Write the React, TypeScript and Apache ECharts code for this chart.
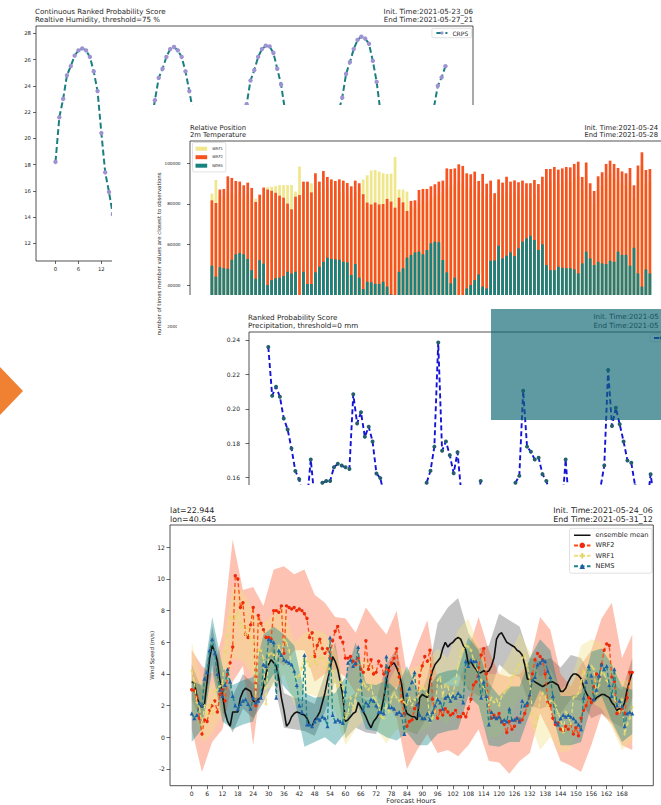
import React, { useEffect, useRef } from "react";
import * as echarts from "echarts";

const FONT = "DejaVu Sans";
const TXT = "#262626";

// ---------------- Panel 1 : CRPS ----------------
const crpsTickX = [0, 6, 12];
const crpsTickY = [12, 14, 16, 18, 20, 22, 24, 26, 28];
const crpsValues = [
  18.2, 21.6, 23.0, 24.8, 25.5, 26.3, 26.7, 26.85, 26.7, 26.2, 25.1, 23.6, 20.4, 17.4, 15.9,
  14.2, 13.1, 12.4, 12.0, 11.9, 12.2, 13.0, 14.5, 16.8, 19.0, 21.2,
  22.9, 24.6, 25.3, 26.2, 26.8, 26.96, 26.7, 26.2, 25.1, 23.6,
  22.0, 20.3, 18.5, 16.8, 15.5, 14.5, 13.6, 13.0, 12.8, 13.1, 14.2, 16.0, 18.4, 20.8,
  22.6, 24.4, 25.2, 26.2, 26.8, 27.06, 27.0, 26.5, 25.3, 24.1,
  22.2, 20.3, 18.6, 17.0, 15.6, 14.5, 13.7, 13.2, 13.0, 13.4, 14.6, 16.5, 18.8, 20.6, 22.0,
  23.1, 24.9, 25.8, 26.8, 27.5, 27.75, 27.6, 27.2, 25.9, 24.3,
  22.0, 20.0, 18.2, 16.6, 15.3, 14.3, 13.6, 13.2, 13.1, 13.6, 15.0, 17.2, 19.6, 21.6,
  22.4, 24.0, 24.65, 25.5,
];

// ---------------- Panel 2 : Relative Position ----------------
const relTickY = [20000, 40000, 60000, 80000, 100000];
const relWRF1 = [
  85100, 91800, 84000, 83500, 86000, 85500, 84500, 86000, 83000, 85000,
  82000, 82600, 80000, 84000, 88300, 88500, 88800, 89300, 89300, 89300,
  89300, 86100, 98400, 87000, 90300, 90200, 88000, 86000, 87000, 88000,
  86500, 87000, 85500, 86000, 84500, 83000, 86000, 88000, 92100, 94100,
  96400, 96700, 95900, 95100, 94800, 94900, 103100, 87100, 87100, 86100,
  79000, 78000, 80000, 82000, 81000, 83000, 84000, 85000, 86000, 88000,
  89000, 90000, 91000, 90000, 88000, 87000, 88000, 85000, 86000, 84000,
  85000, 80000, 86000, 84000, 86000, 85000, 86000, 84000, 85000, 84000,
  83000, 85000, 83000, 87000, 90000, 91000, 92000, 90000, 91000, 92000,
  91000, 93000, 94000, 87000, 94000, 84000, 80000, 87000, 89000, 93000,
  95000, 93000, 91000, 90000, 89000, 91000, 83000, 92000, 99000, 90000, 91000,
];
const relWRF2 = [
  81800, 80500, 87100, 87400, 93600, 92800, 91300, 91000, 89200, 90500,
  87900, 81000, 84600, 88100, 87100, 86500, 85500, 84100, 83100, 80200,
  77400, 83600, 84400, 91000, 91000, 85700, 95100, 91000, 96200, 93300,
  92100, 91300, 92100, 91500, 90300, 88700, 91500, 90200, 84800, 80700,
  79800, 80700, 79800, 80000, 82500, 81200, 78200, 83100, 80800, 76600,
  81500, 81800, 86900, 87400, 87400, 88700, 89700, 91000, 91500, 97500,
  97200, 97500, 99500, 98700, 95100, 94600, 95900, 91300, 94800, 90000,
  91500, 85300, 92100, 90500, 93400, 91000, 91600, 90700, 91500, 90200,
  90200, 91800, 89800, 93400, 97200, 97200, 98200, 96900, 97500, 98200,
  98000, 99700, 100800, 93300, 100400, 90200, 86400, 93600, 95600, 99700,
  101300, 99700, 97700, 96000, 95100, 97700, 89200, 98900, 105400, 96700, 97200,
];
const relNEMS = [
  49700, 44300, 49000, 48500, 48200, 52600, 55300, 55900, 55300, 53000,
  47500, 43300, 52400, 50700, 40200, 42600, 43500, 43800, 44600, 46700,
  45900, 46700, 30000, 46700, 40700, 40700, 46400, 49200, 51600, 53600,
  53000, 52800, 52600, 51600, 51300, 45100, 50500, 43800, 38200, 41800,
  41500, 40800, 40700, 41800, 39400, 35600, 30000, 46700, 48400, 53600,
  54900, 56200, 56600, 55300, 57400, 60700, 61500, 61200, 52500, 46400,
  41000, 43800, 30000, 35300, 38500, 40200, 42600, 45400, 39400, 38500,
  52100, 52300, 59500, 53300, 54600, 56200, 54400, 58200, 61500, 63100,
  64400, 62300, 57400, 60200, 50000, 47500, 47500, 49200, 48700, 48400,
  48500, 47900, 45900, 50800, 56600, 53300, 50000, 51600, 50800, 50500,
  52100, 51600, 56600, 55000, 55000, 49700, 58500, 45900, 39400, 47900, 45900,
];

// ---------------- Panel 3 : RPS ----------------
const rpsTickY = [0.16, 0.18, 0.2, 0.22, 0.24];
const rpsValues = [
  0.2359, 0.2076, 0.2128, 0.207, 0.1944, 0.188, 0.177, 0.1638, 0.159, 0.148,
  0.146, 0.1705, 0.147, 0.15, 0.157, 0.158, 0.158, 0.166, 0.168, 0.167,
  0.166, 0.165, 0.2084, 0.1915, 0.198, 0.1837, 0.1896, 0.181, 0.1624, 0.1597,
  0.15, 0.146, 0.143, 0.14, 0.142, 0.141, 0.139, 0.143, 0.145, 0.148,
  0.152, 0.157, 0.164, 0.178, 0.2386, 0.1756, 0.181, 0.173, 0.1625, 0.1748,
  0.15, 0.146, 0.143, 0.141, 0.14, 0.158, 0.14, 0.139, 0.141, 0.143,
  0.145, 0.147, 0.15, 0.153, 0.157, 0.161, 0.2105, 0.178, 0.175, 0.1705,
  0.1715, 0.162, 0.158, 0.15, 0.146, 0.143, 0.141, 0.1705, 0.14, 0.139,
  0.141, 0.143, 0.145, 0.147, 0.149, 0.152, 0.154, 0.167, 0.2225, 0.19,
  0.2006, 0.191, 0.181, 0.17, 0.1686, 0.155, 0.148, 0.144, 0.142, 0.162,
  0.145, 0.141,
];

// ---------------- Panel 4 : Wind speed ----------------
const windTickX = [0, 6, 12, 18, 24, 30, 36, 42, 48, 54, 60, 66, 72, 78, 84, 90, 96, 102, 108, 114, 120, 126, 132, 138, 144, 150, 156, 162, 168];
const windTickY = [-2, 0, 2, 4, 6, 8, 10, 12];
const meanValues = [
  3.5, 3.45, 2.6, 2.0, 1.9, 2.1, 3.5, 5.0, 5.8, 5.4,
  4.8, 3.6, 2.7, 1.6, 1.0, 0.7, 1.6, 1.6, 1.6, 2.5,
  2.9, 3.1, 3.0, 2.9, 2.3, 2.2, 2.4, 2.5, 3.2, 4.0,
  4.6, 4.9, 4.7, 4.5, 3.7, 2.5, 1.7, 0.7, 0.9, 1.3,
  1.5, 1.6, 1.55, 1.45, 1.4, 1.2, 0.8, 0.7, 1.1, 1.3,
  1.6, 2.2, 2.8, 3.6, 4.3, 5.1, 4.8, 4.3, 3.5, 2.6,
  1.0, 1.1, 1.3, 1.5, 1.6, 2.2, 1.9, 1.6, 1.3, 0.9,
  0.6, 1.0, 1.2, 1.5, 1.7, 2.5, 3.5, 4.4, 4.6, 4.7,
  4.4, 4.0, 3.3, 2.0, 1.5, 1.4, 1.3, 1.3, 1.1, 2.5,
  2.7, 2.6, 2.5, 3.6, 4.2, 4.6, 4.8, 5.0, 5.6, 6.0,
  5.7, 5.9, 6.0, 6.2, 6.3, 6.2, 5.8, 5.5, 4.6, 4.8,
  4.5, 4.3, 4.0, 4.1, 4.2, 4.1, 4.2, 4.5, 5.0, 6.2,
  6.5, 6.6, 6.3, 6.0, 5.9, 5.8, 5.7, 5.5, 5.4, 5.2,
  4.6, 3.7, 3.6, 3.6, 3.5, 3.4, 3.3, 3.2, 3.3, 3.4,
  3.5, 3.5, 3.4, 3.3, 2.9, 2.9, 3.1, 3.5, 3.8, 4.0,
  4.0, 3.9, 3.7, 3.2, 2.8, 2.5, 2.4, 2.3, 2.5, 2.6,
  2.7, 2.7, 2.6, 2.5, 2.2, 2.0, 1.7, 1.8, 1.8, 2.2,
  3.0, 3.6, 4.1,
];
const wrf2Values = [
  3.0, 2.95, 2.5, 1.2, 0.2, 1.1, 1.0, 1.7, 2.0, 2.3,
  1.6, 2.7, 3.0, 2.3, 4.0, 4.7, 5.7, 10.2, 10.0, 8.2,
  8.5, 6.5, 6.3, 7.1, 8.2, 2.0, 7.7, 7.2, 6.8, 6.3,
  6.3, 6.2, 8.0, 8.0, 7.9, 8.3, 5.3, 8.3, 8.2, 8.1,
  8.2, 8.0, 8.1, 8.0, 7.8, 7.5, 6.3, 6.6, 5.1, 5.8,
  6.2, 5.6, 5.3, 5.6, 5.0, 6.1, 6.7, 7.0, 6.3, 6.0,
  5.0, 5.0, 5.1, 4.8, 4.6, 5.0, 4.3, 4.1, 6.1, 4.3,
  4.9, 4.0, 4.1, 4.8, 4.5, 4.0, 4.4, 4.2, 4.7, 5.0,
  5.6, 3.8, 2.3, 1.5, 0.7, 1.0, 1.1, 1.8, 2.0, 3.9,
  4.5, 5.1, 4.8, 5.5, 2.4, 1.6, 1.2, 1.7, 1.4, 1.8,
  1.6, 1.4, 1.5, 1.7, 1.3, 1.3, 1.5, 1.3, 1.8, 2.4,
  3.3, 3.5, 4.4, 5.2, 5.6, 4.0, 2.0, 1.2, 1.4, 1.2,
  1.5, 1.0, 0.8, 0.3, 1.0, 0.5, 0.7, 1.2, 1.0, 1.1,
  1.5, 2.0, 2.6, 4.0, 4.9, 5.3, 5.1, 4.9, 4.0, 2.2,
  2.0, 1.2, 0.8, 0.9, 0.5, 0.4, 0.7, 0.5, 0.8, 0.2,
  0.6, 0.1, 1.2, 1.7, 2.0, 2.5, 2.2, 3.2, 4.0, 3.8,
  4.6, 5.5, 5.9, 5.8, 3.8, 3.5, 1.5, 1.6, 1.8, 1.5,
  2.5, 4.1, 4.1,
];
const wrf1Values = [
  4.2, 3.5, 2.2, 1.9, 0.8, 2.0, 1.4, 2.0, 1.5, 2.9,
  3.0, 3.2, 3.4, 5.4, 6.4, 7.6, 7.5, 7.6, 7.8, 7.2,
  7.0, 6.5, 6.9, 6.3, 6.0, 2.6, 5.5, 5.5, 5.0, 2.1,
  5.2, 5.3, 5.2, 5.0, 5.8, 5.1, 6.2, 6.0, 5.5, 4.5,
  4.2, 3.7, 3.9, 4.4, 5.0, 4.8, 4.5, 5.1, 4.8, 4.6,
  5.0, 5.0, 4.4, 4.7, 4.3, 4.2, 3.5, 3.2, 3.5, 3.2,
  1.2, 1.5, 2.5, 1.8, 2.6, 3.0, 3.0, 3.5, 3.2, 3.0,
  3.3, 2.5, 2.3, 2.0, 1.3, 1.2, 2.0, 1.6, 2.5, 2.8,
  2.5, 2.3, 2.4, 2.2, 2.1, 2.5, 2.0, 2.4, 2.3, 3.0,
  3.2, 3.0, 2.7, 1.0, 1.2, 1.6, 3.6, 3.8, 2.6, 3.3,
  3.2, 2.5, 2.8, 3.5, 4.5, 5.3, 5.6, 5.8, 5.7, 5.5,
  4.9, 4.5, 4.0, 3.6, 3.2, 2.8, 2.0, 2.5, 2.2, 2.4,
  2.0, 2.6, 2.8, 3.0, 3.2, 3.8, 4.0, 4.3, 4.6, 5.0,
  5.2, 4.5, 3.6, 1.5, 0.7, 1.2, 2.5, 2.8, 2.6, 2.0,
  2.3, 2.3, 2.0, 1.5, 1.2, 0.3, 1.6, 1.4, 0.8, 2.5,
  2.6, 2.8, 3.5, 4.2, 3.8, 4.4, 4.5, 4.3, 2.8, 3.3,
  4.1, 4.0, 3.6, 3.3, 2.8, 2.5, 2.0, 1.6, 2.4, 0.2,
  0.8, 1.2, 1.9,
];
const nemsValues = [
  1.5, 1.2, 1.4, 2.2, 2.0, 3.7, 4.1, 5.5, 6.2, 5.3,
  4.0, 3.0, 2.6, 3.3, 4.3, 3.5, 2.6, 2.0, 1.8, 2.1,
  2.3, 2.4, 2.1, 1.8, 2.5, 2.2, 2.3, 2.5, 4.6, 4.5,
  6.2, 6.1, 6.0, 2.5, 5.5, 5.2, 4.9, 4.8, 4.7, 4.6,
  4.2, 3.3, 2.0, 1.6, 5.2, 0.8, 0.8, 0.7, 1.0, 1.2,
  1.1, 1.3, 1.2, 0.7, 6.3, 1.4, 1.0, 1.1, 1.0, 0.9,
  2.9, 4.7, 4.9, 4.5, 4.7, 5.7, 3.6, 1.7, 2.2, 2.0,
  2.4, 2.3, 2.0, 1.6, 1.6, 1.5, 5.1, 1.9, 1.9, 1.8,
  1.5, 1.6, 1.4, 0.2, 2.7, 3.1, 3.5, 4.1, 2.1, 1.4,
  1.2, 1.2, 1.5, 1.1, 1.6, 2.0, 2.4, 2.2, 1.8, 2.5,
  2.6, 2.3, 2.6, 2.5, 2.8, 2.6, 2.2, 4.8, 4.5, 4.9,
  4.8, 4.8, 3.9, 2.5, 3.5, 2.6, 0.8, 1.6, 1.3, 1.2,
  1.3, 1.0, 1.1, 1.0, 1.8, 1.1, 1.1, 1.2, 1.0, 2.3,
  2.0, 2.2, 2.7, 3.6, 3.8, 4.6, 4.7, 4.9, 4.8, 4.2,
  3.8, 2.6, 1.0, 0.8, 1.2, 1.4, 1.3, 1.4, 1.3, 1.2,
  1.0, 0.8, 0.5, 2.5, 3.5, 4.5, 3.9, 2.4, 3.0, 3.9,
  4.6, 4.3, 4.5, 3.3, 2.6, 4.3, 2.0, 2.3, 2.0, 0.7,
  1.5, 1.6, 1.5,
];
const bandHours = [0, 4, 8, 12, 16, 20, 24, 28, 32, 36, 40, 44, 48, 52, 56, 60, 64, 68, 72, 76, 80, 84, 88, 92, 96, 100, 104, 108, 112, 116, 120, 124, 128, 132, 136, 140, 144, 148, 152, 156, 160, 164, 168, 172];
const meanLo = [2.4, 1.0, 4.6, 1.6, 0.3, 1.8, 1.2, 2.2, 3.5, 0.6, 0.5, 0.4, 0.1, 1.6, 3.6, -0.1, 0.6, 0.3, 0.2, 2.4, 3.2, 0.4, 0.2, 1.3, 3.2, 3.5, 4.0, 3.0, 2.6, 2.6, 4.6, 4.0, 3.8, 2.0, 1.8, 2.0, 1.5, 2.4, 2.3, 1.2, 1.5, 1.0, 0.6, 2.5];
const meanHi = [4.6, 3.0, 7.0, 3.8, 2.6, 4.0, 3.4, 4.5, 6.0, 2.8, 2.5, 2.4, 2.1, 4.0, 6.0, 2.3, 2.8, 2.4, 2.3, 4.6, 5.6, 2.6, 2.2, 3.8, 7.2, 8.2, 8.8, 6.6, 5.6, 5.8, 7.8, 7.4, 7.0, 5.0, 4.8, 5.0, 4.4, 5.2, 5.0, 3.8, 4.0, 3.4, 3.0, 5.0];
const wrf2Lo = [0.5, -2.2, -0.3, 0.5, 3.5, 4.5, -0.5, 4.8, 5.0, 4.5, 5.5, 5.5, 3.5, 4.0, 4.3, 3.8, 2.8, 2.5, 2.6, 2.2, 1.2, -2.0, -0.8, 0.2, -1.0, -0.8, -1.2, -0.5, 0.5, -1.5, -1.6, -2.3, -1.5, -1.0, 1.5, 0.2, -1.5, -1.8, -2.2, -0.5, 1.5, 0.8, -0.5, -0.8];
const wrf2Hi = [5.5, 4.5, 4.0, 6.5, 12.5, 9.3, 9.5, 8.3, 10.6, 10.8, 10.3, 10.6, 9.0, 8.5, 7.6, 7.5, 6.6, 8.2, 7.3, 6.5, 8.0, 4.0, 5.8, 7.4, 3.5, 3.3, 3.2, 5.5, 7.6, 5.5, 4.0, 3.8, 4.0, 4.8, 7.6, 6.8, 4.0, 3.2, 4.6, 5.5, 7.5, 8.5, 5.0, 6.5];
const wrf1Lo = [1.8, -0.3, 0.2, 1.5, 5.0, 4.8, 3.8, 3.0, 3.2, 4.0, 2.0, 2.8, 2.6, 2.4, 1.6, -0.5, 0.5, 1.2, 0.5, -0.4, 0.5, 0.3, 0.3, 0.6, 1.2, 0.8, 2.2, 3.2, 1.8, 0.0, 0.0, 1.0, 2.6, 1.0, -0.8, 0.0, -1.0, -0.8, 1.5, 2.2, 1.8, 0.6, -0.8, -0.2];
const wrf1Hi = [6.0, 3.5, 3.3, 5.5, 9.6, 9.2, 8.0, 7.2, 7.8, 8.3, 6.0, 6.6, 6.8, 6.6, 5.6, 3.3, 4.6, 5.0, 4.3, 3.2, 4.5, 4.2, 4.5, 4.8, 5.6, 5.0, 6.8, 7.5, 5.8, 4.0, 4.0, 5.2, 6.6, 5.4, 3.8, 4.3, 3.0, 3.5, 5.8, 6.2, 6.0, 4.8, 3.5, 3.8];
const nemsLo = [-0.3, 0.5, 4.2, 1.0, 0.5, 0.8, 1.0, 3.0, 4.0, 3.2, 2.5, -0.6, -0.3, 0.0, -0.5, 0.3, 2.5, 0.5, 0.4, 0.0, -0.2, 0.3, -0.5, -0.5, 0.2, 0.4, 0.5, 2.6, 2.0, -0.5, -0.6, -0.3, -0.3, 1.5, 3.0, 2.0, -0.5, -0.5, -0.3, 2.0, 2.6, 1.0, -0.3, 0.2];
const nemsHi = [3.5, 3.3, 7.6, 4.5, 3.3, 3.6, 3.8, 6.5, 7.0, 6.5, 5.8, 2.8, 2.5, 2.6, 2.8, 3.8, 6.0, 3.4, 3.3, 3.6, 3.0, 4.5, 3.0, 3.0, 4.0, 4.2, 4.3, 6.3, 5.5, 3.4, 2.6, 3.2, 3.2, 5.0, 6.2, 5.5, 2.6, 2.6, 2.8, 5.4, 5.6, 4.6, 3.2, 3.0];

// ---------------- helpers ----------------
function txt(text: string, x: number, y: number, size: number, align = "left", extra: any = {}) {
  return {
    type: "text",
    x,
    y,
    z: 50,
    silent: true,
    ...extra,
    style: {
      text,
      fill: TXT,
      font: `${size}px "${FONT}"`,
      fontSize: size,
      fontFamily: FONT,
      textAlign: align,
      align,
      textVerticalAlign: "middle",
      verticalAlign: "middle",
    },
  };
}

function frame(x: number, y: number, w: number, h: number) {
  return {
    type: "rect",
    z: 60,
    silent: true,
    shape: { x, y, width: w, height: h },
    style: { fill: "none", stroke: "#262626", lineWidth: 0.8 },
  };
}

function valAxis(min: number, max: number, ticks: number[] | null, fontSize: number, margin: number, tickLen: number, extra: any = {}) {
  const show = ticks !== null;
  return {
    type: "value",
    min,
    max,
    splitLine: { show: false },
    axisLine: { show: false, onZero: false },
    axisTick: {
      show,
      inside: false,
      length: tickLen,
      lineStyle: { color: "#262626", width: 0.7 },
      customValues: ticks || undefined,
    },
    axisLabel: {
      show,
      customValues: ticks || undefined,
      fontSize,
      color: TXT,
      fontFamily: FONT,
      margin,
      ...(extra.label || {}),
    },
    ...(extra.axis || {}),
  };
}

function bandSeries(name: string, lo: number[], hi: number[], color: string) {
  const rows = bandHours.map((h, i) => [h, lo[i], hi[i]]);
  return {
    type: "custom",
    name,
    silent: true,
    z: 1,
    clip: true,
    data: rows,
    encode: { x: 0, y: [1, 2] },
    renderItem: (params: any, api: any) => {
      if (params.dataIndex !== 0) return null;
      const top = rows.map((r) => api.coord([r[0], r[2]]));
      const bot = rows.map((r) => api.coord([r[0], r[1]])).reverse();
      return {
        type: "polygon",
        shape: { points: top.concat(bot) },
        style: { fill: color, stroke: "none" },
      };
    },
  };
}

// a thick horizontal stroke inside a 33x14 box (same ratio as the legend item)
const LINE_ICON = "path://M0 0L0.02 0L0 0.02Z M0 5.6H33V8.4H0Z M33 14L32.98 14L33 13.98Z";

// ---------------- options ----------------
function option1(): any {
  return {
    animation: false,
    backgroundColor: "#ffffff",
    textStyle: { fontFamily: FONT },
    grid: { left: 36, top: 26, width: 437, height: 235 },
    legend: {
      data: ["CRPS"],
      right: 189.3,
      top: 28.3,
      orient: "vertical",
      itemWidth: 11,
      itemHeight: 4,
      padding: [1.7, 3.5],
      borderColor: "#cccccc",
      borderWidth: 0.6,
      borderRadius: 1.5,
      backgroundColor: "rgba(255,255,255,0.8)",
      textStyle: { fontSize: 6, color: TXT, fontFamily: FONT },
    },
    xAxis: valAxis(-5.1, 109.2, crpsTickX, 5.3, 5, 3),
    yAxis: valAxis(10.65, 28.56, crpsTickY, 5.3, 5, 3),
    series: [
      {
        type: "line",
        name: "CRPS",
        data: crpsValues.map((v, i) => [i, v]),
        symbol: "circle",
        symbolSize: 4.4,
        itemStyle: { color: "#9d93d2" },
        lineStyle: { color: "#1b7f82", width: 2, type: [6, 3] },
        z: 3,
      },
    ],
    graphic: [
      txt("Continuous Ranked Probability Score", 35, 11.7, 7.1),
      txt("Realtive Humidity, threshold=75 %", 35, 19.3, 7.1),
      txt("Init. Time:2021-05-23_06", 473, 11.7, 7.1, "right"),
      txt("End Time:2021-05-27_21", 473, 19.3, 7.1, "right"),
      frame(36, 26, 437, 235),
      {
        type: "polygon",
        silent: true,
        z: 70,
        shape: { points: [[0, 367], [23, 391], [0, 415]] },
        style: { fill: "#f08132" },
      },
    ],
  };
}

function option2(): any {
  // div offset (112, 105)
  return {
    animation: false,
    backgroundColor: "#ffffff",
    textStyle: { fontFamily: FONT },
    grid: { left: 78, top: 36, width: 481.8, height: 225.8 },
    legend: {
      data: ["WRF1", "WRF2", "NEMS"],
      left: 80.5,
      top: 37.5,
      orient: "vertical",
      icon: "rect",
      itemWidth: 11.7,
      itemHeight: 4,
      itemGap: 4.5,
      padding: [4.2, 3],
      borderColor: "#cccccc",
      borderWidth: 0.6,
      borderRadius: 1.5,
      backgroundColor: "rgba(255,255,255,0.8)",
      textStyle: { fontSize: 3.7, color: TXT, fontFamily: FONT },
    },
    xAxis: valAxis(-5.5, 115.5, null, 4, 4, 3),
    yAxis: valAxis(0, 110958, relTickY, 4.2, 9.5, 3, {
      label: { formatter: (v: number) => String(v) },
      axis: {
        name: "number of times member values are closest to observations",
        nameLocation: "middle",
        nameGap: 29,
        nameMoveOverlap: false,
        nameTextStyle: { fontSize: 5.4, color: TXT, fontFamily: FONT },
      },
    }),
    series: [
      {
        type: "bar",
        name: "WRF1",
        data: relWRF1.map((v, i) => [i, v]),
        barWidth: 2.7,
        barGap: "-100%",
        itemStyle: { color: "#f0e68c" },
      },
      {
        type: "bar",
        name: "WRF2",
        data: relWRF2.map((v, i) => [i, v]),
        barWidth: 2.7,
        barGap: "-100%",
        itemStyle: { color: "#f65320" },
      },
      {
        type: "bar",
        name: "NEMS",
        data: relNEMS.map((v, i) => [i, v]),
        barWidth: 2.7,
        barGap: "-100%",
        itemStyle: { color: "#17827e" },
      },
    ],
    graphic: [
      txt("Relative Position", 78, 22.7, 6.8),
      txt("2m Temperature", 78, 30.3, 6.8),
      txt("Init. Time:2021-05-24", 472.5, 22.7, 6.8),
      txt("End Time:2021-05-28", 472.5, 30.3, 6.8),
      frame(78, 36, 481.8, 225.8),
    ],
  };
}

function option3(): any {
  // chart offset (179, 295)
  return {
    animation: false,
    backgroundColor: "#ffffff",
    textStyle: { fontFamily: FONT },
    grid: { left: 70, top: 37, width: 441, height: 214.4 },
    legend: {
      data: ["RPS"],
      left: 471,
      top: 39,
      orient: "vertical",
      itemWidth: 14,
      itemHeight: 4,
      padding: [2, 3],
      borderColor: "#cccccc",
      borderWidth: 0.6,
      borderRadius: 1.5,
      backgroundColor: "rgba(255,255,255,0.8)",
      formatter: () => "",
      textStyle: { fontSize: 6, color: TXT, fontFamily: FONT },
    },
    xAxis: valAxis(-5.0, 109.2, null, 6, 4, 3.5),
    yAxis: valAxis(0.12, 0.24465, rpsTickY, 6.0, 9, 3.5, {
      label: { formatter: (v: number) => v.toFixed(2) },
    }),
    series: [
      {
        type: "line",
        name: "RPS",
        data: rpsValues.map((v, i) => [i, v]),
        symbol: "circle",
        symbolSize: 4,
        itemStyle: { color: "#235f6c" },
        lineStyle: { color: "#1414d6", width: 1.9, type: [5, 3] },
        z: 3,
      },
    ],
    graphic: [
      txt("Ranked Probability Score", 69, 22.3, 7.2),
      txt("Precipitation, threshold=0 mm", 69, 30, 7.2),
      txt("Init. Time:2021-05", 414.5, 21.7, 7.1),
      txt("End Time:2021-05", 414.5, 30, 7.1),
      frame(70, 37, 441, 214.4),
      {
        type: "rect",
        silent: true,
        z: 200,
        shape: { x: 312, y: 14, width: 420, height: 111 },
        style: { fill: "rgba(16,103,117,0.67)" },
      },
    ],
  };
}

function option4(): any {
  // div offset (0, 497)
  return {
    animation: false,
    backgroundColor: "#ffffff",
    textStyle: { fontFamily: FONT },
    grid: { left: 170, top: 28, width: 483.3, height: 260.7 },
    legend: {
      data: [{ name: "ensemble mean", icon: LINE_ICON }, "WRF2", "WRF1", "NEMS"],
      right: 9,
      top: 31.3,
      orient: "vertical",
      itemWidth: 16.5,
      itemHeight: 7,
      itemGap: 3.1,
      padding: [3.5, 3.5],
      borderColor: "#cccccc",
      borderWidth: 0.6,
      borderRadius: 2,
      backgroundColor: "rgba(255,255,255,0.8)",
      textStyle: { fontSize: 6.6, color: TXT, fontFamily: FONT },
    },
    xAxis: valAxis(-8.48, 180.2, windTickX, 6.1, 4.5, 3.5),
    yAxis: valAxis(-3.06, 13.41, windTickY, 6.1, 5, 3.5, {
      axis: {
        name: "Wind Speed (m/s)",
        nameLocation: "middle",
        nameGap: 15,
        nameMoveOverlap: false,
        nameTextStyle: { fontSize: 5.5, color: TXT, fontFamily: FONT },
      },
    }),
    series: [
      bandSeries("mean band", meanLo, meanHi, "rgba(105,105,105,0.4)"),
      bandSeries("WRF2 band", wrf2Lo, wrf2Hi, "rgba(250,85,40,0.36)"),
      bandSeries("WRF1 band", wrf1Lo, wrf1Hi, "rgba(238,226,130,0.38)"),
      bandSeries("NEMS band", nemsLo, nemsHi, "rgba(0,128,128,0.36)"),
      {
        type: "line",
        name: "ensemble mean",
        data: meanValues.map((v, i) => [i, v]),
        symbol: "none",
        itemStyle: { color: "#111111" },
        lineStyle: { color: "#111111", width: 1.6 },
        z: 10,
      },
      {
        type: "line",
        name: "WRF2",
        data: wrf2Values.map((v, i) => [i, v]),
        symbol: "circle",
        symbolSize: 3.4,
        itemStyle: { color: "#ee2a0a" },
        lineStyle: { color: "#ff4a12", width: 1.3, type: [4, 2.5] },
        z: 11,
      },
      {
        type: "line",
        name: "WRF1",
        data: wrf1Values.map((v, i) => [i, v]),
        symbol: "path://M5 0L5 10M0 5L10 5",
        symbolSize: 3.5,
        itemStyle: { color: "#e9dd78", borderColor: "#e4d86a", borderWidth: 0.8 },
        lineStyle: { color: "#ece07c", width: 1.2, type: [4, 2.5] },
        z: 12,
      },
      {
        type: "line",
        name: "NEMS",
        data: nemsValues.map((v, i) => [i, v]),
        symbol: "triangle",
        symbolSize: 4,
        itemStyle: { color: "#1f5fa8" },
        lineStyle: { color: "#16848a", width: 1.3, type: [4, 2.5] },
        z: 13,
      },
    ],
    graphic: [
      txt("lat=22.944", 170, 13, 7.9),
      txt("lon=40.645", 170, 22, 7.9),
      txt("Init. Time:2021-05-24_06", 652.7, 13, 7.9, "right"),
      txt("End Time:2021-05-31_12", 652.7, 22, 7.9, "right"),
      txt("Forecast Hours", 411, 304.2, 6.6, "center"),
      frame(170, 28, 483.3, 260.7),
    ],
  };
}

export default function App() {
  const r1 = useRef<HTMLDivElement>(null);
  const r2 = useRef<HTMLDivElement>(null);
  const r3 = useRef<HTMLDivElement>(null);
  const r4 = useRef<HTMLDivElement>(null);

  useEffect(() => {
    const charts: any[] = [];
    const mk = (el: HTMLDivElement | null, opt: any) => {
      if (!el) return;
      const c = echarts.init(el, null, { renderer: "svg" });
      c.setOption(opt);
      charts.push(c);
    };
    mk(r1.current, option1());
    mk(r2.current, option2());
    mk(r3.current, option3());
    mk(r4.current, option4());
    return () => charts.forEach((c) => c.dispose());
  }, []);

  return (
    <div style={{ position: "absolute", left: 0, top: 0, width: 661, height: 805, overflow: "hidden", background: "#fff" }}>
      <div ref={r1} style={{ position: "absolute", left: 0, top: 0, width: 661, height: 500 }} />
      <div ref={r2} style={{ position: "absolute", left: 112, top: 105, width: 700, height: 392 }} />
      <div style={{ position: "absolute", left: 177, top: 295, width: 484, height: 190, overflow: "hidden", background: "#fff" }}>
        <div ref={r3} style={{ position: "absolute", left: 2, top: 0, width: 700, height: 260 }} />
      </div>
      <div ref={r4} style={{ position: "absolute", left: 0, top: 497, width: 661, height: 308 }} />
    </div>
  );
}
